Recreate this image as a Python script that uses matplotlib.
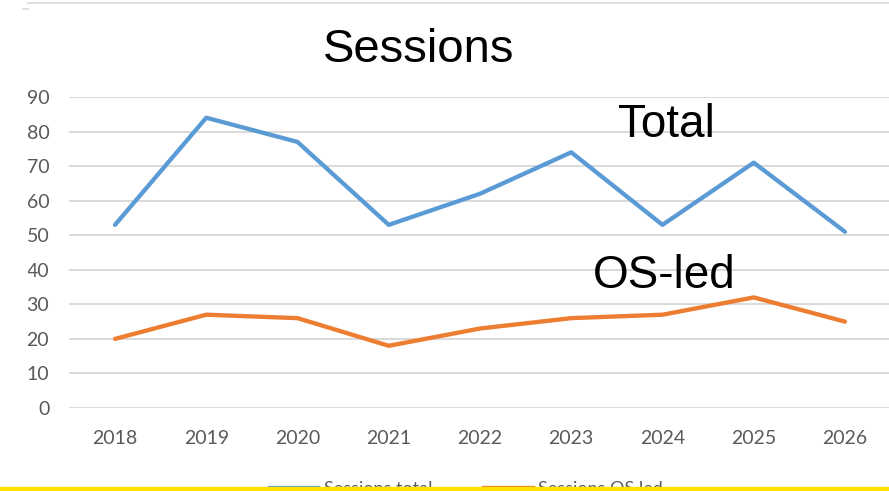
import matplotlib
matplotlib.use('Agg')
import matplotlib.pyplot as plt
from matplotlib.lines import Line2D
from matplotlib.patches import Rectangle
from matplotlib.transforms import Bbox

# data
years = ['2018', '2019', '2020', '2021', '2022', '2023', '2024', '2025', '2026']
sessions_total = [53, 84, 77, 53, 62, 74, 53, 71, 51]
sessions_os_led = [20, 27, 26, 18, 23, 26, 27, 32, 25]
y_ticks = [0, 10, 20, 30, 40, 50, 60, 70, 80, 90]

W, H = 889, 491
fig = plt.figure(figsize=(W / 100, H / 100), dpi=100)
fig.patch.set_facecolor('white')

ax = fig.add_axes([69.4 / W, 1 - 408 / H, (890.6 - 69.4) / W, (408 - 97) / H])
x = list(range(len(years)))
l1, = ax.plot(x, sessions_total, color='#5B9BD5', lw=3.1, solid_capstyle='round',
              solid_joinstyle='round', label='Sessions total', zorder=3)
l2, = ax.plot(x, sessions_os_led, color='#ED7D31', lw=3.1, solid_capstyle='round',
              solid_joinstyle='round', label='Sessions OS led', zorder=3)

ax.set_xlim(-0.5, len(years) - 0.5)
ax.set_ylim(0, 90)
ax.set_xticks(x)
ax.set_xticklabels(years)
ax.set_yticks(y_ticks)
ax.grid(axis='y', color='#D9D9D9', lw=1.4)
ax.set_axisbelow(True)
for s in ax.spines.values():
    s.set_visible(False)
ax.tick_params(length=0, labelsize=14, labelcolor='#595959')
ax.tick_params(axis='x', pad=16)
ax.tick_params(axis='y', pad=14.5)
for t in ax.get_xticklabels() + ax.get_yticklabels():
    t.set_fontfamily('Lato')

# the screenshot cuts the chart at its left edge
clip = Bbox.from_extents(28, 0, W, H)
for t in ax.get_yticklabels():
    t.set_clip_box(clip)
    t.set_clip_on(True)

fig.text(418.5 / W, 1 - 62 / H, 'Sessions', fontsize=34, family='Liberation Sans',
         ha='center', va='baseline')
fig.text(666.5 / W, 1 - 137 / H, 'Total', fontsize=33, family='Liberation Sans',
         ha='center', va='baseline')
fig.text(664.5 / W, 1 - 288 / H, 'OS-led', fontsize=33, family='Liberation Sans',
         ha='center', va='baseline')

leg = fig.legend(handles=[l1, l2], loc='center', bbox_to_anchor=(0.524, 1 - 489 / H),
                 ncol=2, frameon=False, handlelength=2.8, handletextpad=0.25,
                 columnspacing=2.8, prop={'family': 'Lato', 'size': 13})
for t in leg.get_texts():
    t.set_color('#595959')

# chart border bits at the top and yellow strip at the bottom
fig.add_artist(Line2D([28 / W, 1], [1 - 2.5 / H, 1 - 2.5 / H], color='#D9D9D9', lw=1.2))
fig.add_artist(Line2D([23 / W, 28 / W], [1 - 9 / H, 1 - 9 / H], color='#D9D9D9', lw=1.2))
fig.add_artist(Rectangle((0, 0), 1, 4.5 / H, transform=fig.transFigure,
                         color='#FFE100', zorder=20))

fig.savefig('out.png', dpi=100)
